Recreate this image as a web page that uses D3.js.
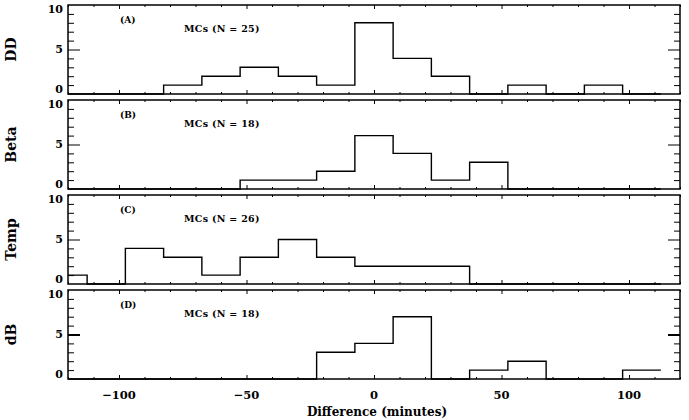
<!DOCTYPE html>
<html lang="en">
<head>
  <meta charset="UTF-8">
  <script src="https://d3js.org/d3.v7.min.js"></script>
  <title>Difference histograms</title>
  <style>
    body { margin: 0; background: #fff; }
    text { font-family: "DejaVu Serif", serif; font-weight: bold; fill: #000; }
  </style>
</head>
<body>
  <div class="chart"></div>
  <script>
    // bin centres (minutes), 15-minute bins
    const binCenters = [-120, -105, -90, -75, -60, -45, -30, -15, 0, 15, 30, 45, 60, 75, 90, 105];
    const ddCounts   = [0, 0, 0, 1, 2, 3, 2, 1, 8, 4, 2, 0, 1, 0, 1, 0];
    const betaCounts = [0, 0, 0, 0, 0, 1, 1, 2, 6, 4, 1, 3, 0, 0, 0, 0];
    const tempCounts = [1, 0, 4, 3, 1, 3, 5, 3, 2, 2, 2, 0, 0, 0, 0, 0];
    const dbCounts   = [0, 0, 0, 0, 0, 0, 0, 3, 4, 7, 0, 1, 2, 0, 0, 1];
    const panelNames = ['DD', 'Beta', 'Temp', 'dB'];
    const panelTags  = ['(A)', '(B)', '(C)', '(D)'];
    const panelN     = [25, 18, 26, 18];
    const xMajorTicks = [-100, -50, 0, 50, 100];
    const yTickLabels = [0, 5, 10];

    const allCounts = [ddCounts, betaCounts, tempCounts, dbCounts];
    const binWidth = 15;

    const W = 689, H = 420;
    const left = 68, right = 680, ph = 89;
    const tops = [5, 100, 195, 290];

    const svg = d3.select('.chart').append('svg').attr('width', W).attr('height', H);
    const x = d3.scaleLinear().domain([-120, 120]).range([left, right]);
    const xMinor = d3.range(-120, 121, 10).filter(v => !xMajorTicks.includes(v));

    allCounts.forEach((counts, i) => {
      const top = tops[i];
      const y = d3.scaleLinear().domain([0, 10]).range([top + ph, top]);
      const g = svg.append('g');

      // ticks
      const addAxis = (axis, tx, ty) => {
        const a = g.append('g').attr('transform', `translate(${tx},${ty})`).call(axis);
        a.select('.domain').remove();
        a.selectAll('line').attr('stroke', '#000').attr('stroke-width', 1);
        return a;
      };
      addAxis(d3.axisBottom(x).tickValues(xMinor).tickSize(-2).tickFormat(''), 0, top + ph);
      addAxis(d3.axisBottom(x).tickValues(xMajorTicks).tickSize(-4).tickFormat(''), 0, top + ph);
      addAxis(d3.axisTop(x).tickValues(xMinor).tickSize(-2).tickFormat(''), 0, top);
      addAxis(d3.axisTop(x).tickValues(xMajorTicks).tickSize(-4).tickFormat(''), 0, top);
      const yMinor = [1, 2, 3, 4, 6, 7, 8, 9];
      addAxis(d3.axisLeft(y).tickValues(yMinor).tickSize(-6).tickFormat(''), left, 0);
      addAxis(d3.axisRight(y).tickValues(yMinor).tickSize(-6).tickFormat(''), right, 0);
      const mj = i === 3 ? 2 : 1;
      addAxis(d3.axisLeft(y).tickValues([5]).tickSize(-12).tickFormat(''), left, 0)
        .selectAll('line').attr('stroke-width', mj);
      addAxis(d3.axisRight(y).tickValues([5]).tickSize(-12).tickFormat(''), right, 0)
        .selectAll('line').attr('stroke-width', mj);

      // y tick labels
      g.selectAll('.ylab').data(yTickLabels).join('text')
        .attr('x', left - 5)
        .attr('y', d => y(d) + (d === 10 ? 4 : d === 0 ? -5 : 0))
        .attr('dy', '0.35em')
        .attr('text-anchor', 'end')
        .style('font-size', '11px')
        .text(d => d);

      // histogram outline
      const pts = [];
      binCenters.forEach((c, k) => {
        const x0 = Math.max(c - binWidth / 2, -120), x1 = Math.min(c + binWidth / 2, 120);
        pts.push([x0, counts[k]], [x1, counts[k]]);
      });
      const line = d3.line().x(d => x(d[0])).y(d => y(d[1]));
      g.append('path').attr('d', line(pts))
        .attr('fill', 'none').attr('stroke', '#000').attr('stroke-width', 1.4);

      // frame
      g.append('rect').attr('x', left).attr('y', top).attr('width', right - left).attr('height', ph)
        .attr('fill', 'none').attr('stroke', '#000').attr('stroke-width', 1.5);

      // labels
      g.append('text').attr('x', 120).attr('y', top + 18).style('font-size', '9px').text(panelTags[i]);
      g.append('text').attr('x', 184).attr('y', top + 27).style('font-size', '9.5px')
        .style('letter-spacing', '0.3px')
        .text(`MCs (N = ${panelN[i]})`);
      g.append('text')
        .attr('transform', `translate(16,${top + ph / 2}) rotate(-90)`)
        .attr('text-anchor', 'middle')
        .style('font-size', '14px')
        .text(panelNames[i]);
    });

    // x tick labels and title on the bottom panel
    const bottom = tops[3] + ph;
    svg.selectAll('.xlab').data(xMajorTicks).join('text')
      .attr('x', d => x(d))
      .attr('y', bottom + 20)
      .attr('text-anchor', 'middle')
      .style('font-size', '11.5px')
      .text(d => d < 0 ? '\u2212' + Math.abs(d) : d);
    svg.append('text').attr('x', 377).attr('y', bottom + 37)
      .attr('text-anchor', 'middle')
      .style('font-size', '12px')
      .text('Difference (minutes)');
  </script>
</body>
</html>
